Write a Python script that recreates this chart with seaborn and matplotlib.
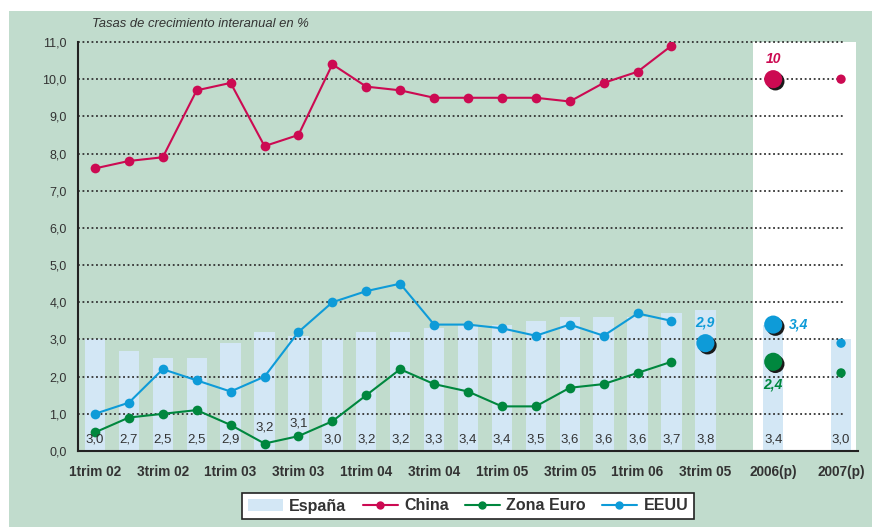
import matplotlib
matplotlib.use("Agg")
import matplotlib.pyplot as plt
import matplotlib.patheffects as pe
from matplotlib.patches import Rectangle
from matplotlib.lines import Line2D
from matplotlib.ticker import FixedLocator
import seaborn as sns

# --- data ---
periods = ["1trim 02", "2trim 02", "3trim 02", "4trim 02",
           "1trim 03", "2trim 03", "3trim 03", "4trim 03",
           "1trim 04", "2trim 04", "3trim 04", "4trim 04",
           "1trim 05", "2trim 05", "3trim 05", "4trim 05",
           "1trim 06", "2trim 06", "3trim 06", "2006(p)", "2007(p)"]
bar_pos = list(range(19)) + [20, 22]
espana = [3.0, 2.7, 2.5, 2.5, 2.9, 3.2, 3.1, 3.0, 3.2, 3.2, 3.3,
          3.4, 3.4, 3.5, 3.6, 3.6, 3.6, 3.7, 3.8, 3.4, 3.0]

line_pos = list(range(18))
china = [7.6, 7.8, 7.9, 9.7, 9.9, 8.2, 8.5, 10.4, 9.8, 9.7, 9.5,
         9.5, 9.5, 9.5, 9.4, 9.9, 10.2, 10.9]
zona_euro = [0.5, 0.9, 1.0, 1.1, 0.7, 0.2, 0.4, 0.8, 1.5, 2.2, 1.8,
             1.6, 1.2, 1.2, 1.7, 1.8, 2.1, 2.4]
eeuu = [1.0, 1.3, 2.2, 1.9, 1.6, 2.0, 3.2, 4.0, 4.3, 4.5, 3.4,
        3.4, 3.3, 3.1, 3.4, 3.1, 3.7, 3.5]

# forecasts: big dots (3trim 06 / 2006) and small dots (2007)
big_pos = [18, 20, 20, 20]
big_vals = [2.9, 10.0, 3.4, 2.4]
big_series = ["EEUU", "China", "EEUU", "Zona Euro"]
big_labels = ["2,9", "10", "3,4", "2,4"]
small_pos = [22, 22, 22]
small_vals = [10.0, 2.9, 2.1]
small_series = ["China", "EEUU", "Zona Euro"]

tick_pos = [0, 2, 4, 6, 8, 10, 12, 14, 16, 18, 20, 22]
tick_labels = ["1trim 02", "3trim 02", "1trim 03", "3trim 03", "1trim 04",
               "3trim 04", "1trim 05", "3trim 05", "1trim 06", "3trim 05",
               "2006(p)", "2007(p)"]

BG = "#c1dccd"
BAR = "#d3e7f5"
TXT = "#333333"
colors = {"China": "#cc0a52", "Zona Euro": "#00873e", "EEUU": "#0e9bd8"}

sns.set_style("white")
plt.rcParams["font.family"] = ["Liberation Sans", "DejaVu Sans"]

fig = plt.figure(figsize=(8.72, 5.27), dpi=100)
fig.patch.set_facecolor("white")
fig.patches.append(Rectangle((9 / 872, 0), 1, (527 - 11) / 527,
                             transform=fig.transFigure, facecolor=BG,
                             edgecolor="none", zorder=-10))
ax = fig.add_axes([78 / 872, 76 / 527, 780 / 872, 409 / 527])
ax.set_facecolor(BG)

# white forecast region
ax.axvspan(19.4, 22.45, ymin=0, ymax=1, color="white", zorder=0, lw=0)

# bars
sns.barplot(x=bar_pos, y=espana, native_scale=True, width=0.6, color=BAR,
            saturation=1, linewidth=0, edgecolor="none", ax=ax, zorder=1)

# dotted grid
ax.hlines(range(1, 12), -0.5, 22.1, colors="#333333", linestyles=(0, (1, 1.5)),
          linewidth=1.3, zorder=1.5, clip_on=False)

# lines
for name, vals in [("China", china), ("Zona Euro", zona_euro), ("EEUU", eeuu)]:
    sns.lineplot(x=line_pos, y=vals, color=colors[name], marker="o",
                 markersize=7, markeredgewidth=0, linewidth=1.5, ax=ax,
                 zorder=3)

# small 2007 dots
ax.scatter(small_pos, small_vals, s=45, c=[colors[s] for s in small_series],
           linewidths=0, zorder=3)

# big forecast dots with shadow
sc = ax.scatter(big_pos, big_vals, s=170, c=[colors[s] for s in big_series],
                linewidths=0, zorder=4)
sc.set_path_effects([pe.SimplePatchShadow(offset=(1.6, -1.6), shadow_rgbFace="#1a1a1a",
                                          alpha=1), pe.Normal()])

label_offsets = [(0, 0.55, "center"), (0, 0.55, "center"),
                 (0.45, 0.0, "left"), (0, -0.62, "center")]
for x, v, s, lab, (dx, dy, ha) in zip(big_pos, big_vals, big_series,
                                      big_labels, label_offsets):
    ax.text(x + dx, v + dy, lab, color=colors[s], fontsize=10,
            fontweight="bold", style="italic", ha=ha, va="center", zorder=5)

# bar value labels
for i, (x, v) in enumerate(zip(bar_pos, espana)):
    y = 0.3
    if i == 5:
        y = 0.62
    elif i == 6:
        y = 0.75
    ax.text(x, y, f"{v:.1f}".replace(".", ","), ha="center", va="center",
            fontsize=9.5, color=TXT, zorder=5)

# axes
ax.set_xlim(-0.5, 22.5)
ax.set_ylim(0, 11)
ax.set_yticks(range(12))
ax.set_yticklabels([f"{v},0" for v in range(12)], fontsize=9, color=TXT)
ax.set_xticks(tick_pos)
ax.set_xticklabels(tick_labels, fontsize=9.8, fontweight="bold", color=TXT)
ax.xaxis.set_minor_locator(FixedLocator([k - 0.5 for k in range(24)]))
ax.tick_params(axis="x", which="major", length=0, pad=10)
ax.tick_params(axis="x", which="minor", length=4, width=1.2, color="#222222",
               direction="out")
ax.tick_params(axis="y", length=4, width=1.2, color="#222222", direction="out",
               pad=4)
for side in ["top", "right"]:
    ax.spines[side].set_visible(False)
for side in ["left", "bottom"]:
    ax.spines[side].set_color("#222222")
    ax.spines[side].set_linewidth(1.5)
ax.set_xlabel("")
ax.set_ylabel("")
ax.grid(False)

fig.text(92 / 872, (527 - 24) / 527, "Tasas de crecimiento interanual en %",
         style="italic", fontsize=9.4, color=TXT, ha="left", va="center")

# legend
handles = [Rectangle((0, 0), 1, 1, facecolor=BAR, edgecolor="none")]
for name in ["China", "Zona Euro", "EEUU"]:
    handles.append(Line2D([], [], color=colors[name], marker="o", markersize=6,
                          markeredgewidth=0, linewidth=1.5))
leg = fig.legend(handles, ["España", "China", "Zona Euro", "EEUU"],
                 loc="center", bbox_to_anchor=(468 / 872, 21 / 527), ncol=4,
                 frameon=True, fancybox=False, framealpha=1, handlelength=2.2,
                 columnspacing=1.0, handletextpad=0.4, borderpad=0.35,
                 prop={"weight": "bold", "size": 11.5})
leg.get_frame().set_edgecolor("#222222")
leg.get_frame().set_linewidth(1.2)
leg.get_frame().set_facecolor("white")
for t in leg.get_texts():
    t.set_color(TXT)

fig.savefig("out.png", dpi=100, facecolor=fig.get_facecolor())
